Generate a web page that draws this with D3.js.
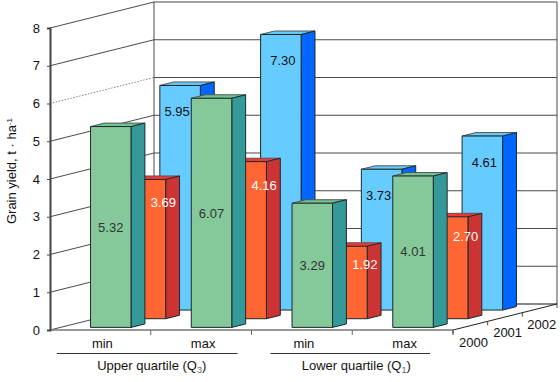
<!DOCTYPE html>
<html><head><meta charset="utf-8">
<script src="https://cdn.jsdelivr.net/npm/d3@7"></script>
<style>html,body{margin:0;padding:0;background:#fff}svg{display:block}text{font-family:"Liberation Sans",Arial,sans-serif;font-size:13px;fill:#111}</style>
</head><body><svg id="c" width="560" height="382"></svg>
<script>
const categories = ["min","max","min","max"];
const groups = ["Upper quartile (Q", "Lower quartile (Q"];
const groupSubs = ["3","1"];
const years = ["2000","2001","2002"];
const yTicks = [0,1,2,3,4,5,6,7,8];
const values2000 = [5.32,6.07,3.29,4.01];
const values2001 = [3.69,4.16,1.92,2.70];
const values2002 = [5.95,7.30,3.73,4.61];
const seriesList = [values2002,values2001,values2000];
const seriesYear = ["2002","2001","2000"];
const palette = {
 "2000":{front:"#85c99b",side:"#339999",top:"#6fc690",label:"#333"},
 "2001":{front:"#ff6633",side:"#cc3333",top:"#ff3333",label:"#fff"},
 "2002":{front:"#66ccff",side:"#0066ff",top:"#66ccff",label:"#111"}};

const svg = d3.select("#c");
const x = d3.scaleBand().domain(d3.range(4)).range([50,453]);
const y = d3.scaleLinear().domain([0,8]).range([330,28]);
// depth: 0 front of floor .. 3 back wall
const dx = d3.scaleLinear().domain([0,3]).range([0,104]);
const dy = d3.scaleLinear().domain([0,3]).range([0,-26]);
const P = (cx,v,d)=>[cx+dx(d), y(v)+dy(d)];
const line = d3.line();
const gridCol = "#4a4a4a";

// back wall & left wall
const grid = svg.append("g").attr("fill","none");
grid.selectAll("path.b").data(yTicks.slice(1)).join("path").attr("class","b")
  .attr("d",v=>line([P(50,v,3),P(453,v,3)])).attr("stroke",gridCol).attr("stroke-width",1.2);
grid.selectAll("path.l").data(yTicks.slice(1)).join("path").attr("class","l")
  .attr("d",v=>line([P(50,v,0),P(50,v,3)])).attr("stroke",gridCol).attr("stroke-width",1)
  .attr("stroke-dasharray",v=>v===6?"1.5 1.5":null).attr("opacity",v=>v===6?0.7:1);
grid.append("path").attr("d",line([P(50,0,3),P(50,8,3)])).attr("stroke",gridCol);
grid.append("path").attr("d",line([P(453,0,3),P(453,8,3)])).attr("stroke",gridCol);
grid.append("path").attr("d",line([P(50,0,0),P(50,0,3)])).attr("stroke",gridCol);
grid.append("path").attr("d",line([P(50,0,3),P(453,0,3)])).attr("stroke","#111");
grid.append("path").attr("d",line([P(453,0,0),P(453,0,3)])).attr("stroke","#222");
grid.append("path").attr("d",line([P(50,0,0),P(453,0,0)])).attr("stroke","#777").attr("stroke-width",1.4);

// bars, back series first
const barW = x.bandwidth()*0.402, near = 0.3, deep = 0.4;
seriesList.forEach((vals,si)=>{
  const yr = seriesYear[si], c = palette[yr], idx = years.indexOf(yr);
  const d0 = idx+near, d1 = d0+deep;
  const g = svg.append("g").attr("stroke","#1c2a2a").attr("stroke-width",1).attr("stroke-linejoin","round");
  vals.forEach((v,i)=>{
    const cx = x(i)+x.bandwidth()/2, l = cx-barW/2, r = cx+barW/2;
    g.append("path").attr("fill",c.top).attr("stroke","#555")
      .attr("d",line([P(l,v,d0),P(r,v,d0),P(r,v,d1),P(l,v,d1)])+"Z");
    g.append("path").attr("fill",c.side)
      .attr("d",line([P(r,0,d0),P(r,v,d0),P(r,v,d1),P(r,0,d1)])+"Z");
    g.append("path").attr("fill",c.front)
      .attr("d",line([P(l,0,d0),P(l,v,d0),P(r,v,d0),P(r,0,d0)])+"Z");
  });
});

// value labels
const labelRule = {
 "2000":(v,i)=>({dx:0,dy:(y(0)-y(v))/2}),
 "2001":(v,i)=>({dx:18,dy:12+2.9*v}),
 "2002":(v,i)=>({dx:i%2?2:-3,dy:26})};
seriesList.forEach((vals,si)=>{
  const yr = seriesYear[si], c = palette[yr], d0 = years.indexOf(yr)+near;
  vals.forEach((v,i)=>{
    const cx = x(i)+x.bandwidth()/2, o = labelRule[yr](v,i), p = P(cx,v,d0);
    svg.append("text").text(v.toFixed(2)).attr("text-anchor","middle")
      .attr("x",p[0]+o.dx).attr("y",p[1]+o.dy).attr("dy","0.36em").style("fill",c.label);
  });
});

// y axis
const ax = svg.append("g").attr("transform","translate(50,0)").call(d3.axisLeft(y).tickValues(yTicks).tickFormat(d3.format("d")).tickSize(3).tickPadding(7));
ax.select(".domain").attr("stroke","#444").attr("stroke-width",2);
ax.selectAll(".tick line").attr("stroke","#444");
ax.selectAll("text").style("font-size","13px").style("fill","#111").style("font-family",'"Liberation Sans",Arial,sans-serif');

// x ticks, labels
const xt = svg.append("g");
xt.selectAll("line").data(d3.range(1,5)).join("line")
  .attr("x1",i=>x.step()*i+50).attr("x2",i=>x.step()*i+50).attr("y1",330).attr("y2",335).attr("stroke","#666");
xt.selectAll("text").data(categories).join("text").text(d=>d).attr("text-anchor","middle")
  .attr("x",(d,i)=>x(i)+x.bandwidth()/2+2).attr("y",343).attr("dy","0.36em");

// group captions
[[0,1],[2,3]].forEach((pair,gi)=>{
  const a = x(pair[0]), b = x(pair[1])+x.bandwidth();
  svg.append("line").attr("x1",a+7+(gi?12:0)).attr("x2",b-14-(gi?9:0)).attr("y1",353.5).attr("y2",353.5).attr("stroke","#333");
  const t = svg.append("text").attr("text-anchor","middle").attr("x",(a+b)/2+(gi?4:1)).attr("y",365).attr("dy","0.36em");
  t.append("tspan").text(groups[gi]);
  t.append("tspan").text(groupSubs[gi]).attr("dy","3").style("font-size","9px").style("fill","#666");
  t.append("tspan").text(")").attr("dy","-3");
});

// depth axis
years.forEach((yr,i)=>{
  const q = P(453,0,i);
  svg.append("line").attr("x1",q[0]).attr("y1",q[1]).attr("x2",q[0]).attr("y2",q[1]+4).attr("stroke","#444");
  svg.append("text").text(yr).attr("x",q[0]+6-i*0.5).attr("y",q[1]+12-(i===1?1:0)).attr("dy","0.36em");
});
svg.append("line").attr("x1",P(453,0,3)[0]).attr("y1",P(453,0,3)[1]).attr("x2",P(453,0,3)[0]).attr("y2",P(453,0,3)[1]+4).attr("stroke","#444");

// y title
const yt = svg.append("text").attr("transform","translate(11,171) rotate(-90)").attr("text-anchor","middle").attr("dy","0.36em");
yt.append("tspan").text("Grain yield, t · ha");
yt.append("tspan").text("-1").style("font-size","8px").attr("dy","-4");
</script></body></html>
